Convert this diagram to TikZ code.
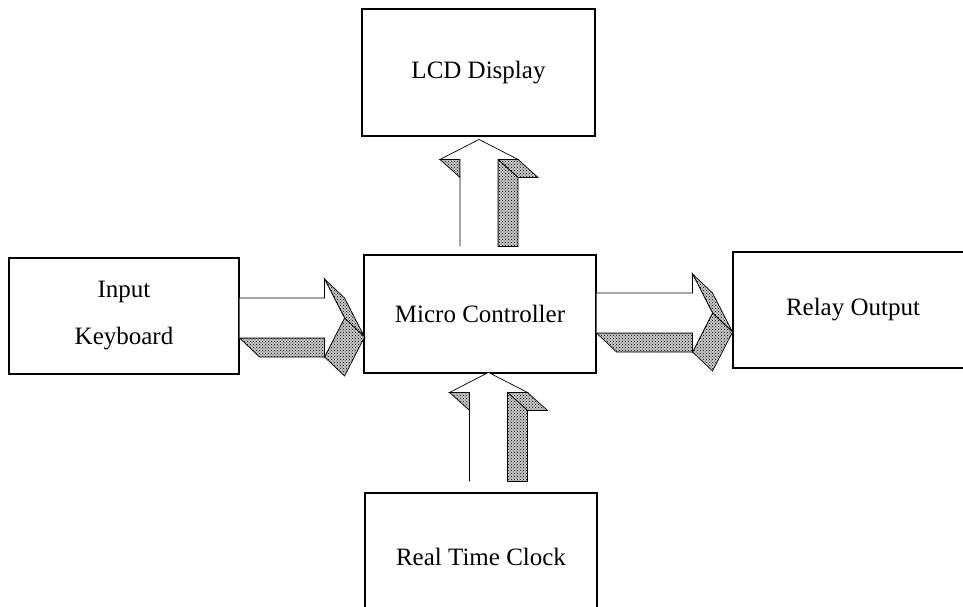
\documentclass[tikz,border=0pt]{standalone}
\usepackage{fontspec}
\setmainfont{Liberation Serif}
\usetikzlibrary{patterns}

\tikzset{
  face/.style={draw, line width=0.7pt, preaction={fill=black!22},
    pattern=crosshatch dots, pattern color=black},
  front/.style={draw, line width=0.7pt, fill=white},
  % #1 = shaft length
  pics/rarrow/.style={code={
    \path[face] (0,20) -- (#1,20) -- (#1+20,39) -- (20,39) -- cycle;
    \path[face] (#1,-39) -- (#1+20,0) -- (#1+40,19) -- (#1+20,-20) -- cycle;
    \path[face] (#1+20,0) -- (#1,39) -- (#1+20,58) -- (#1+40,19) -- cycle;
    \path[front] (0,-20) -- (#1,-20) -- (#1,-39) -- (#1+20,0) -- (#1,39) -- (#1,20) -- (0,20);
  }},
  pics/uarrow/.style={code={
    \path[face] (-39,-#1) -- (-19,-#1) -- (-19,-#1+18) -- cycle;
    \path[face] (19,-#1) -- (39,-#1) -- (59,-#1+18) -- (39,-#1+18) -- cycle;
    \path[face] (19,-#1) -- (39,-#1+18) -- (39,0) -- (19,0) -- cycle;
    \path[front] (-19,0) -- (-19,-#1) -- (-39,-#1) -- (0,-#1-20) -- (39,-#1) -- (19,-#1) -- (19,0);
  }}
}

\begin{document}
\begin{tikzpicture}[x=1pt, y=-1pt, font=\fontsize{25}{30}\selectfont]
\tikzstyle{block} = [draw, line width=1.1pt, minimum width=233pt, minimum height=127pt, inner sep=0pt]

\useasboundingbox (0,0) rectangle (963,607);

\node[block] (lcd) at (478.5,72.5) {LCD Display};
\node[block, minimum width=230pt, minimum height=116pt, align=center,
      font=\fontsize{25}{47}\selectfont] (kbd) at (124,316) {Input\\Keyboard};
\node[block, minimum width=232pt, minimum height=118pt] (mc) at (480,314) {Micro Controller};
\node[block, minimum width=240pt, minimum height=116pt] (relay) at (853,310) {Relay Output};
\node[block, minimum width=232pt, minimum height=128pt] (rtc) at (481,557) {Real Time Clock};

\pic at ([shift={(0,2)}]kbd.east) {rarrow=85};
\pic at ([shift={(0,-1)}]mc.east) {rarrow=96};
\pic at ([shift={(-1,-8)}]mc.north) {uarrow=87};
\pic at ([shift={(7.5,-11)}]rtc.north) {uarrow=89};
\end{tikzpicture}
\end{document}
